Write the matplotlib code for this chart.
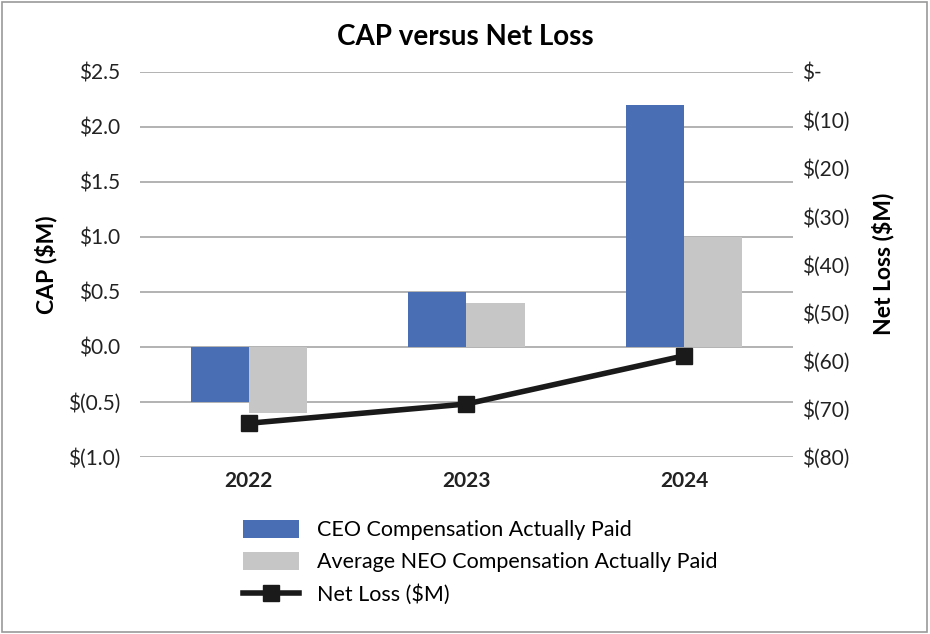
import matplotlib.pyplot as plt
import numpy as np
from matplotlib.patches import Rectangle

years = ['2022', '2023', '2024']
ceo_cap = [-0.5, 0.5, 2.2]
neo_cap = [-0.6, 0.4, 1.0]
net_loss = [-73, -69, -59]

left_ticks = [-1.0, -0.5, 0.0, 0.5, 1.0, 1.5, 2.0, 2.5]
left_labels = ['$(1.0)', '$(0.5)', '$0.0', '$0.5', '$1.0', '$1.5', '$2.0', '$2.5']
right_ticks = [-80, -70, -60, -50, -40, -30, -20, -10, 0]
right_labels = ['$(80)', '$(70)', '$(60)', '$(50)', '$(40)', '$(30)', '$(20)', '$(10)', '$-']

plt.rcParams['font.family'] = ['Lato', 'DejaVu Sans']

fig = plt.figure(figsize=(9.3, 6.34), dpi=100)
ax = fig.add_axes([0.1505, 0.2792, 0.7022, 0.608])
ax2 = ax.twinx()

x = np.arange(len(years))
w = 0.267
ax.bar(x - w / 2, ceo_cap, w, color='#4a6eb3', label='CEO Compensation Actually Paid', zorder=2)
ax.bar(x + w / 2, neo_cap, w, color='#c6c6c6', label='Average NEO Compensation Actually Paid', zorder=2)

ax.set_ylim(-1.0, 2.5)
ax.set_yticks(left_ticks)
ax.set_yticklabels(left_labels, fontsize=15, color='#222222')
ax.set_xlim(-0.5, 2.5)
ax.set_xticks(x)
ax.set_xticklabels(years, fontsize=15, fontweight='bold', color='#222222')
ax.grid(axis='y', color='#a6a6a6', linewidth=1.2, zorder=0)
ax.tick_params(length=0, pad=14)
ax.tick_params(axis='x', pad=10)
for s in ax.spines.values():
    s.set_visible(False)
ax.set_ylabel('CAP ($M)', fontsize=16.5, fontweight='bold', labelpad=8)

ln, = ax2.plot(x, net_loss, color='#1a1a1a', linewidth=4, marker='s', markersize=12,
               label='Net Loss ($M)', zorder=3)
ax2.set_ylim(-80, 0)
ax2.set_yticks(right_ticks)
ax2.set_yticklabels(right_labels, fontsize=15, color='#222222')
ax2.tick_params(length=0, pad=6.5)
for s in ax2.spines.values():
    s.set_visible(False)
ax2.set_ylabel('Net Loss ($M)', fontsize=16.5, fontweight='bold', labelpad=16)

fig.suptitle('CAP versus Net Loss', x=0.5, y=0.962, fontsize=20, fontweight='bold')

h1, l1 = ax.get_legend_handles_labels()
fig.legend(h1 + [ln], l1 + ['Net Loss ($M)'], loc='upper left', bbox_to_anchor=(0.261, 0.18),
           bbox_transform=fig.transFigure, frameon=False, fontsize=15.5,
           borderpad=0, borderaxespad=0,
           handlelength=2.6, handleheight=0.9, labelspacing=0.55, handletextpad=0.85)

fig.patches.append(Rectangle((0.002, 0.003), 0.995, 0.994, transform=fig.transFigure,
                             fill=False, edgecolor='#999999', linewidth=1.2))

fig.savefig('out.png', dpi=100)
